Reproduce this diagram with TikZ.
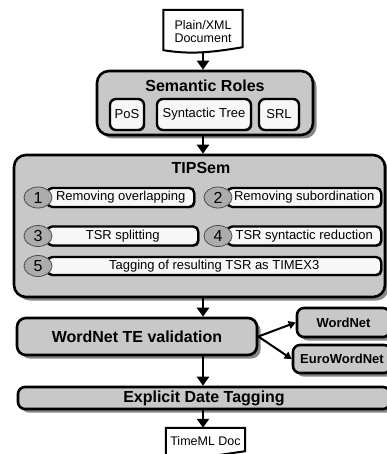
\documentclass[tikz,border=0pt]{standalone}
\usepackage{fontspec}
\setmainfont{Liberation Sans}
\usetikzlibrary{arrows.meta, shadows, shapes.geometric, positioning, backgrounds}
\definecolor{grisCaja}{RGB}{200,200,200}
\definecolor{blancoPaso}{RGB}{247,247,247}
\definecolor{grisNumero}{RGB}{172,172,172}
\definecolor{grisSombra}{RGB}{135,135,135}

\begin{document}
\begin{tikzpicture}
        [
        x=1pt, y=-1pt,
        every node/.style={
                font=\fontsize{13}{15}\selectfont
            },
            titulo/.style={
                font=\fontsize{16}{18}\selectfont\bfseries
            },
            bloque/.style={
                rectangle,
                rounded corners=12pt,
                draw=black,
                line width=2.6pt,
                fill=grisCaja,
                inner sep=0pt,
                drop shadow={shadow xshift=3.5pt, shadow yshift=-3.5pt, fill=grisSombra, opacity=1}
            },
            caja/.style={
                rectangle,
                rounded corners=6pt,
                draw=black,
                line width=2.4pt,
                fill=blancoPaso,
                inner sep=0pt,
                drop shadow={shadow xshift=1.2pt, shadow yshift=-1.2pt, fill=black!75, opacity=1}
            },
            paso/.style={
                caja,
                rounded corners=5pt,
                anchor=west,
                minimum height=19pt
            },
            numero/.style={
                ellipse,
                draw=black!70,
                line width=0.8pt,
                fill=grisNumero,
                inner sep=0pt,
                minimum width=28pt,
                minimum height=21pt,
                font=\fontsize{16}{18}\selectfont
            },
            recurso/.style={
                bloque,
                rounded corners=7pt,
                font=\fontsize{13}{15}\selectfont\bfseries
            },
            documento/.style={
                align=center,
                inner sep=0pt,
                minimum width=79pt,
                font=\fontsize{12.5}{13.5}\selectfont
            },
            borde/.style={
                draw=black,
                line width=2pt,
                fill=white
            },
            flecha/.style={
                -{Triangle[width=12pt,length=9pt]},
                line width=2.4pt
            },
            flechaFina/.style={
                -{Triangle[width=8pt,length=7pt]},
                line width=2pt
            }
        ]
        \useasboundingbox (0,0) rectangle (387,454);
        \clip (0,0) rectangle (387,454);

        \node(doc) [documento, minimum height=43pt] at (203,31.5) {Plain/XML\\Document};
        \begin{pgfonlayer}{background}
            \draw[borde] (doc.north west) -- (doc.north east) -- ([yshift=6pt]doc.south east)
                .. controls +(-35pt,-6pt) and +(25pt,-4pt) .. ([yshift=3pt]doc.south west) -- cycle;
        \end{pgfonlayer}

        \node(sem) [bloque, minimum width=216pt, minimum height=64pt] at (205,103) {};
        \node(semTitulo) [titulo] at (205,86) {Semantic Roles};
        \node(pos) [caja, minimum width=34pt, minimum height=31pt] at (127,114.5) {PoS};
        \node(sintactico) [caja, minimum width=94pt, minimum height=31pt] at (204,114.5) {Syntactic Tree};
        \node(srl) [caja, minimum width=40pt, minimum height=31pt] at (279,114.5) {SRL};

        \node(tip) [bloque, minimum width=371pt, minimum height=142pt] at (199.5,226) {};
        \node(tipTitulo) [titulo] at (201,168) {TIPSem};
        \node(paso1) [paso, minimum width=147pt] at (46,197.5) {Removing overlapping};
        \node(num1) [numero] at ([xshift=-8pt]paso1.west) {1};
        \node(paso2) [paso, minimum width=154pt] at (226,197.5) {Removing subordination};
        \node(num2) [numero] at ([xshift=-8pt]paso2.west) {2};
        \node(paso3) [paso, minimum width=151pt] at (46,236) {TSR splitting};
        \node(num3) [numero] at ([xshift=-8pt]paso3.west) {3};
        \node(paso4) [paso, minimum width=154pt] at (226,236) {TSR syntactic reduction};
        \node(num4) [numero] at ([xshift=-8pt]paso4.west) {4};
        \node(paso5) [paso, minimum width=334pt, minimum height=18pt] at (46,266) {Tagging of resulting TSR as TIMEX3};
        \node(num5) [numero] at ([xshift=-8pt]paso5.west) {5};

        \node(validacion) [bloque, rounded corners=9pt, titulo, minimum width=240pt, minimum height=37pt] at (137,336.5) {WordNet TE validation};
        \node(wordnet) [recurso, minimum width=93pt, minimum height=29pt] at (343.5,322.5) {WordNet};
        \node(euro) [recurso, minimum width=98pt, minimum height=28pt] at (342,359) {EuroWordNet};

        \node(fechas) [bloque, rounded corners=7pt, titulo, minimum width=372pt, minimum height=22pt] at (204,398) {Explicit Date Tagging};

        \node(timeml) [documento, minimum height=27pt] at (205.5,441.5) {TimeML Doc};
        \begin{pgfonlayer}{background}
            \draw[borde] (timeml.north west) -- (timeml.north east) -- ([yshift=4pt]timeml.south east)
                .. controls +(-35pt,-5pt) and +(25pt,-4pt) .. ([yshift=-1pt]timeml.south west) -- cycle;
        \end{pgfonlayer}

        \draw[flecha] (doc.south) -- (sem.north -| doc.south);
        \draw[flecha] (sem.south -| doc.south) -- (tip.north -| doc.south);
        \draw[flecha] (tip.south -| doc.south) -- (validacion.north -| doc.south);
        \draw[flecha] (validacion.south -| doc.south) -- (fechas.north -| doc.south);
        \draw[flecha] (fechas.south -| doc.south) -- (timeml.north -| doc.south);
        \draw[flechaFina] (validacion.east) -- (wordnet.west);
        \draw[flechaFina] (validacion.east) -- (euro.west);
    \end{tikzpicture}
\end{document}
